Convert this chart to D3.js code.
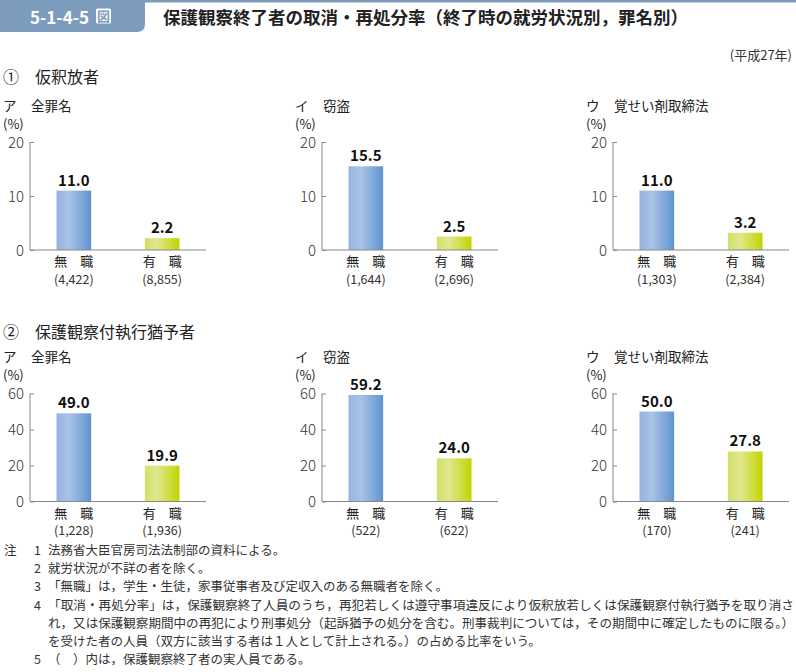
<!DOCTYPE html>
<html>
<head>
<meta charset="utf-8">
<script src="https://cdn.jsdelivr.net/npm/d3@7"></script>
<style>
  html, body { margin: 0; padding: 0; background: #fff; }
  svg { display: block; }
  text { font-family: "Noto Sans CJK JP", "Noto Sans", sans-serif; }
</style>
</head>
<body>
<svg id="chart" width="796" height="672"></svg>
<script>
// ---- data ----
const figNumber = "5-1-4-5";
const figTitle = "保護観察終了者の取消・再処分率（終了時の就労状況別，罪名別）";
const yearNote = "(平成27年)";
const sectionTitles = ["①　仮釈放者", "②　保護観察付執行猶予者"];
const categories = ["無　職", "有　職"];
const panelLetters = ["ア", "イ", "ウ"];
const crimeNames = ["全罪名", "窃盗", "覚せい剤取締法"];
const paroleRates = [[11.0, 2.2], [15.5, 2.5], [11.0, 3.2]];
const paroleCounts = [["4,422", "8,855"], ["1,644", "2,696"], ["1,303", "2,384"]];
const probationRates = [[49.0, 19.9], [59.2, 24.0], [50.0, 27.8]];
const probationCounts = [["1,228", "1,936"], ["522", "622"], ["170", "241"]];
const paroleTicks = [0, 10, 20];
const probationTicks = [0, 20, 40, 60];
const notes = [
  ["注", "1", "法務省大臣官房司法法制部の資料による。"],
  ["", "2", "就労状況が不詳の者を除く。"],
  ["", "3", "「無職」は，学生・生徒，家事従事者及び定収入のある無職者を除く。"],
  ["", "4", "「取消・再処分率」は，保護観察終了人員のうち，再犯若しくは遵守事項違反により仮釈放若しくは保護観察付執行猶予を取り消さ"],
  ["", "", "れ，又は保護観察期間中の再犯により刑事処分（起訴猶予の処分を含む。刑事裁判については，その期間中に確定したものに限る。）"],
  ["", "", "を受けた者の人員（双方に該当する者は１人として計上される。）の占める比率をいう。"],
  ["", "5", "（　）内は，保護観察終了者の実人員である。"]
];

// ---- drawing ----
const svg = d3.select("#chart");
const blue = "#7d9bbd";

// gradients
const defs = svg.append("defs");
const gb = defs.append("linearGradient").attr("id", "gBlue").attr("x1", "0").attr("x2", "1").attr("y1", "0").attr("y2", "0");
gb.append("stop").attr("offset", "0").attr("stop-color", "#94b3df");
gb.append("stop").attr("offset", "0.35").attr("stop-color", "#aac3e7");
gb.append("stop").attr("offset", "1").attr("stop-color", "#5f94cf");
const gg = defs.append("linearGradient").attr("id", "gGreen").attr("x1", "0").attr("x2", "1").attr("y1", "0").attr("y2", "0");
gg.append("stop").attr("offset", "0").attr("stop-color", "#d2e06a");
gg.append("stop").attr("offset", "0.35").attr("stop-color", "#e0e88e");
gg.append("stop").attr("offset", "1").attr("stop-color", "#c2d400");
const fills = ["url(#gBlue)", "url(#gGreen)"];

// header
svg.append("rect").attr("x", 0).attr("y", 0).attr("width", 796).attr("height", 2.5).attr("fill", blue);
svg.append("path")
  .attr("d", "M0,0 H145 V24 Q145,32 137,32 H0 Z")
  .attr("fill", blue);
svg.append("text").attr("x", 30).attr("y", 23.5)
  .attr("font-size", 17).attr("font-weight", "bold").attr("fill", "#fff")
  .text(figNumber);
svg.append("rect").attr("x", 96).attr("y", 8.5).attr("width", 15).attr("height", 15)
  .attr("fill", "#fff").attr("rx", 1.5);
svg.append("text").attr("x", 103.5).attr("y", 21).attr("text-anchor", "middle")
  .attr("font-size", 13).attr("font-weight", "bold").attr("fill", blue).text("図");
svg.append("text").attr("x", 163).attr("y", 23.5)
  .attr("font-size", 17.5).attr("font-weight", "bold").attr("fill", "#222")
  .text(figTitle);

svg.append("text").attr("x", 792).attr("y", 60).attr("text-anchor", "end")
  .attr("font-size", 13).attr("fill", "#333").text(yearNote);

// sections
const sections = [
  { title: sectionTitles[0], titleY: 83, rates: paroleRates, counts: paroleCounts, ticks: paroleTicks,
    base: 250, top: 142, subY: 111, pctY: 128.5 },
  { title: sectionTitles[1], titleY: 338, rates: probationRates, counts: probationCounts, ticks: probationTicks,
    base: 501.5, top: 393.5, subY: 362, pctY: 379.5 }
];
const panelX = [30, 322, 613];
const axisLen = 176;

sections.forEach(sec => {
  svg.append("text").attr("x", 3).attr("y", sec.titleY)
    .attr("font-size", 16).attr("fill", "#222").attr("xml:space", "preserve")
    .text(sec.title);

  const y = d3.scaleLinear()
    .domain([0, d3.max(sec.ticks)])
    .range([sec.base, sec.top]);

  panelLetters.forEach((letter, i) => {
    const g = svg.append("g").attr("transform", `translate(${panelX[i]},0)`);
    const x = d3.scaleBand().domain(categories).range([0, axisLen])
      .paddingInner(0.608).paddingOuter(0.3);

    // sub-title
    g.append("text").attr("x", -27).attr("y", sec.subY)
      .attr("font-size", 13.5).attr("fill", "#222").text(letter);
    g.append("text").attr("x", 1).attr("y", sec.subY)
      .attr("font-size", 13.5).attr("fill", "#222").text(crimeNames[i]);
    g.append("text").attr("x", -27).attr("y", sec.pctY)
      .attr("font-size", 13).attr("fill", "#222").text("(%)");

    // y axis
    const ax = g.append("g").call(
      d3.axisLeft(y).tickValues(sec.ticks).tickSize(-4).tickPadding(6).tickFormat(d3.format("d"))
    );
    ax.select(".domain").attr("stroke", "#888").attr("d", `M0,${sec.top}V${sec.base}`);
    ax.selectAll(".tick line").attr("stroke", "#888");
    ax.selectAll(".tick text").attr("font-size", 15).attr("fill", "#333")
      .attr("font-family", "'Open Sans', 'Noto Sans', sans-serif").attr("font-weight", 300)
      .attr("dy", "0.36em");

    // bars
    const rates = sec.rates[i];
    g.selectAll("rect.bar").data(categories).join("rect")
      .attr("class", "bar")
      .attr("x", d => x(d))
      .attr("width", x.bandwidth())
      .attr("y", (d, j) => y(rates[j]))
      .attr("height", (d, j) => y(0) - y(rates[j]))
      .attr("fill", (d, j) => fills[j]);

    // baseline
    g.append("line").attr("x1", 0).attr("x2", axisLen)
      .attr("y1", y(0)).attr("y2", y(0)).attr("stroke", "#888");

    // value labels
    g.selectAll("text.val").data(categories).join("text")
      .attr("class", "val")
      .attr("x", d => x(d) + x.bandwidth() / 2)
      .attr("y", (d, j) => y(rates[j]) - 5)
      .attr("text-anchor", "middle")
      .attr("font-size", 15).attr("font-weight", "bold").attr("fill", "#111")
      .attr("font-family", "'Open Sans', 'Noto Sans', sans-serif")
      .text((d, j) => d3.format(".1f")(rates[j]));

    // category labels
    g.selectAll("text.cat").data(categories).join("text")
      .attr("class", "cat")
      .attr("x", d => x(d) + x.bandwidth() / 2)
      .attr("y", y(0) + 16)
      .attr("text-anchor", "middle")
      .attr("font-size", 13).attr("fill", "#222")
      .text(d => d);
    g.selectAll("text.cnt").data(categories).join("text")
      .attr("class", "cnt")
      .attr("x", d => x(d) + x.bandwidth() / 2)
      .attr("y", y(0) + 33.5)
      .attr("text-anchor", "middle")
      .attr("font-size", 12.5).attr("fill", "#333")
      .attr("font-family", "'Open Sans', 'Noto Sans', sans-serif")
      .text((d, j) => `(${sec.counts[i][j]})`);
  });
});

// notes
const noteG = svg.append("g");
notes.forEach((n, k) => {
  const yy = 555 + k * 18.2;
  if (n[0]) noteG.append("text").attr("x", 4).attr("y", yy).attr("font-size", 12.5).attr("fill", "#333").text(n[0]);
  if (n[1]) noteG.append("text").attr("x", 34).attr("y", yy).attr("font-size", 12.5).attr("fill", "#333").text(n[1]);
  const t = noteG.append("text").attr("x", 48).attr("y", yy).attr("font-size", 12.5).attr("fill", "#333").text(n[2]);
  if (k === 3 || k === 4) t.attr("textLength", 746).attr("lengthAdjust", "spacingAndGlyphs");
});
</script>
</body>
</html>
